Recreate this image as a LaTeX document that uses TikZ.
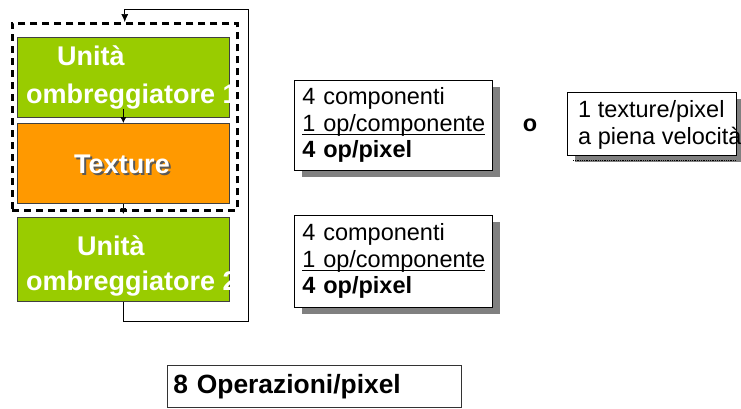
\documentclass[tikz,border=0pt]{standalone}
\usepackage{fontspec}
\setmainfont{Liberation Sans}
\usetikzlibrary{arrows.meta, shadows}
\definecolor{verdeunita}{HTML}{99CC00}
\definecolor{arancio}{HTML}{FF9900}
\definecolor{ombra}{HTML}{808080}
\newsavebox\scatola
\newcommand{\sottolinea}[1]{\leavevmode\sbox\scatola{#1}\rlap{\rule[-4pt]{\wd\scatola}{1.1pt}}\usebox\scatola}

\begin{document}
\begin{tikzpicture}[x=1pt, y=-1pt,
  stadio/.style={draw=black!75, line width=0.7pt, minimum width=212pt, minimum height=80pt, anchor=north west, inner sep=0pt},
  etichetta/.style={text=white, font=\fontsize{27}{30}\selectfont\bfseries, anchor=base west, inner sep=0pt},
  riquadro/.style={draw=black, fill=white, line width=0.8pt, anchor=north west, inner sep=0pt, drop shadow={shadow xshift=8pt, shadow yshift=-7pt, fill=ombra, opacity=1}},
  testo/.style={font=\fontsize{23.5}{26.5}\selectfont, align=left},
  freccia/.style={-{Latex[length=6pt, width=6pt]}, line width=0.7pt}]
\useasboundingbox (0,0) rectangle (741,408);

% pipeline
\node[stadio, fill=verdeunita] (u1) at (17,37) {};
\node[stadio, fill=arancio] (tx) at (17,123) {};
\node[stadio, fill=verdeunita, minimum height=84pt] (u2) at (17,217) {};
\begin{scope}
  \clip (u1.south west) rectangle (u1.north east);
  \node[etichetta] (u1a) at (57,65) {Unità};
  \node[etichetta] (u1b) at (26,103) {ombreggiatore 1};
\end{scope}
\begin{scope}
  \clip (u2.south west) rectangle (u2.north east);
  \node[etichetta] (u2a) at (77,255) {Unità};
  \node[etichetta] (u2b) at (26,290) {ombreggiatore 2};
\end{scope}
\node[etichetta, text=black!65, anchor=base] (txs) at (124,175) {Texture};
\node[etichetta, anchor=base] (txt) at (122,173) {Texture};
\node[draw, line width=2.5pt, dash pattern=on 7pt off 5pt, minimum width=225pt, minimum height=187pt, anchor=north west, inner sep=0pt] (gruppo) at (11,22) {};

\draw[freccia] ([yshift=9pt]u1.south) -- (tx.north);
\draw[freccia] (tx.south) -- ([yshift=3pt]u2.north);
\coordinate (giu) at (248,321);
\coordinate (su) at (248,9);
\draw[freccia, -{Latex[length=8pt, width=7pt]}] (u2.south) |- (giu) -- (su) -| (gruppo.north);

% conteggi
\node[riquadro, testo, text width=182pt, inner xsep=8pt, minimum height=90pt] (r1) at (294,80) {4 componenti\\\sottolinea{1 op/componente}\\\textbf{4 op/pixel}};
\node[font=\fontsize{23.5}{26.5}\selectfont\bfseries] (oppure) at (530,125) {o};
\node[riquadro, minimum width=169pt, minimum height=63pt] (r2) at (567,92) {};
\draw[densely dotted, line width=0.8pt] ([xshift=6pt, yshift=-5pt]r2.south west) -- ([xshift=-1pt, yshift=-5pt]r2.south east);
\node[testo, anchor=west, inner sep=0pt] (t2) at (578,125) {1 texture/pixel\\a piena velocità};
\node[riquadro, testo, text width=182pt, inner xsep=8pt, minimum height=92pt] (r3) at (294,215) {4 componenti\\\sottolinea{1 op/componente}\\\textbf{4 op/pixel}};

\node[draw=black!80, line width=0.8pt, anchor=north west, minimum height=42pt, text width=282pt, inner xsep=6pt, align=left, font=\fontsize{26.4}{30}\selectfont\bfseries] (totale) at (167,365) {8 Operazioni/pixel};
\end{tikzpicture}
\end{document}
